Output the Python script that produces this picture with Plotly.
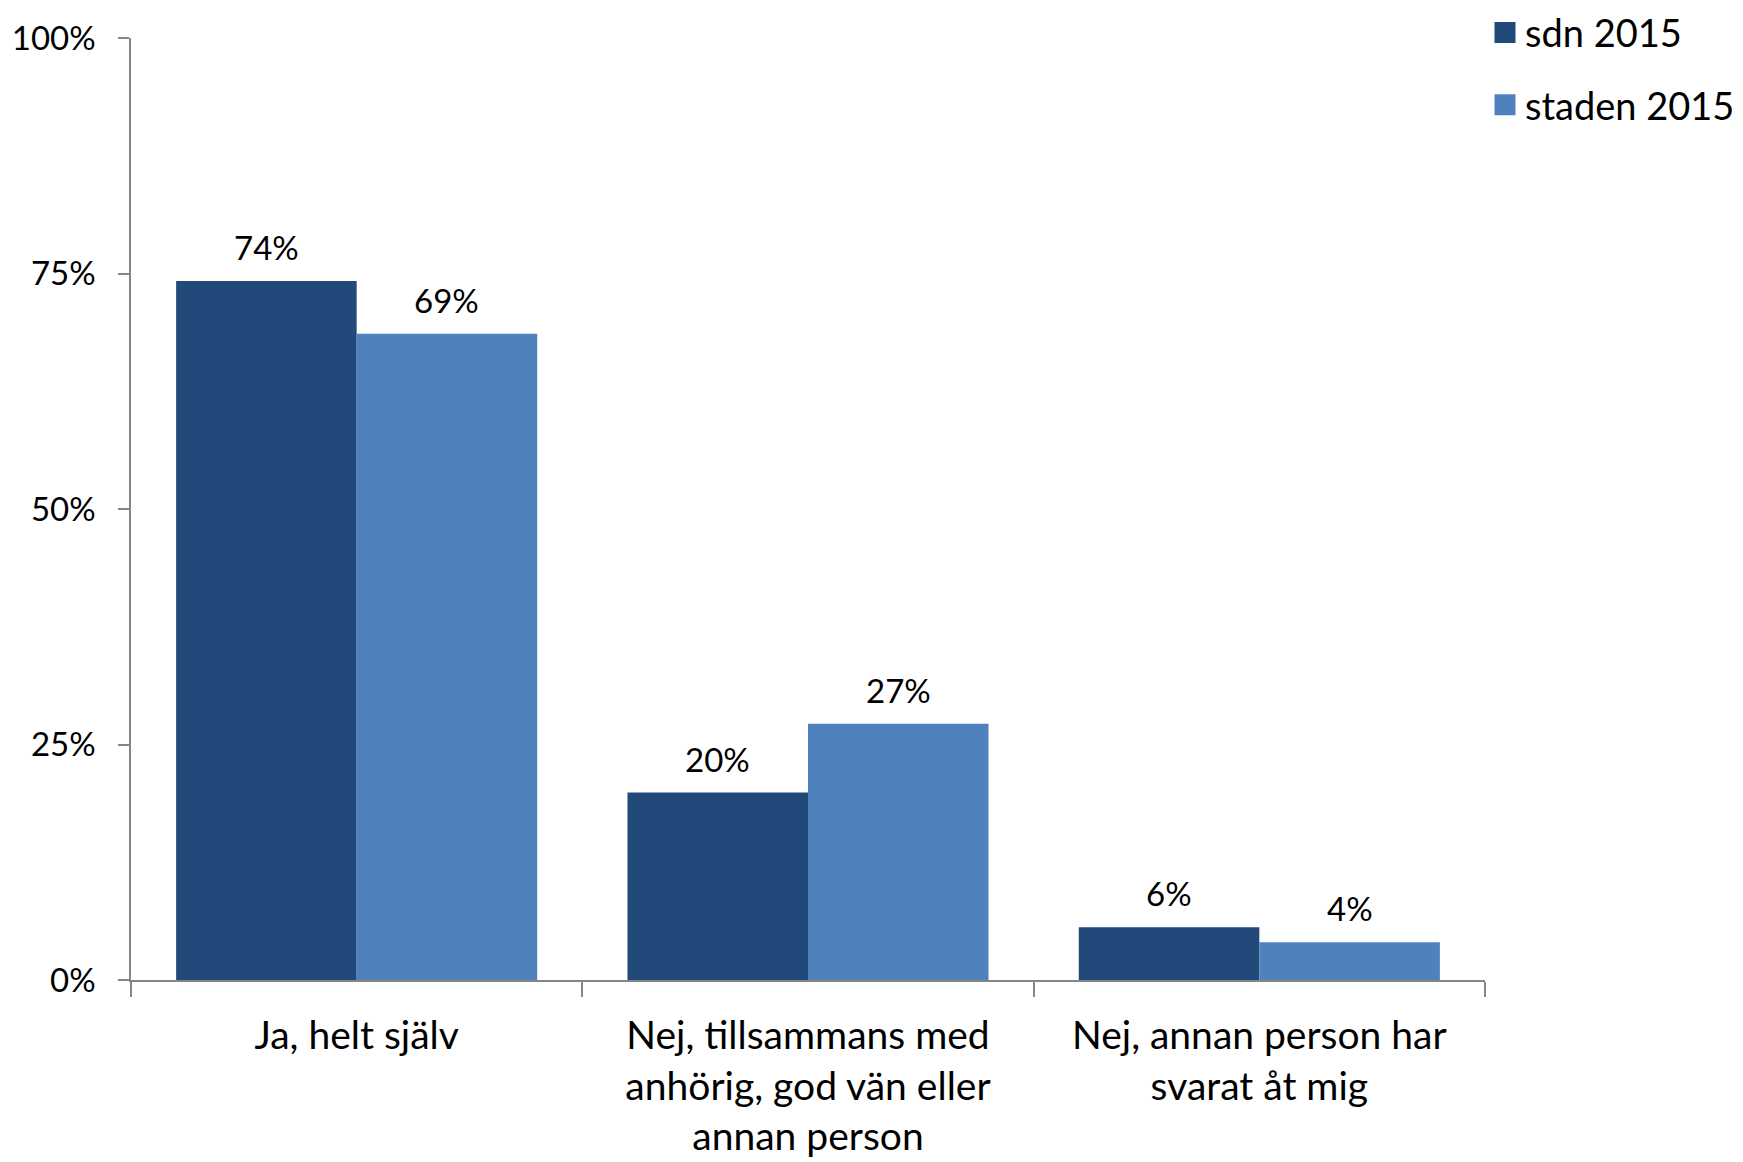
import plotly.graph_objects as go

categories = ["Ja, helt själv",
              "Nej, tillsammans med<br>anhörig, god vän eller<br>annan person",
              "Nej, annan person har<br>svarat åt mig"]
series_names = ["sdn 2015", "staden 2015"]
sdn_values = [0.742, 0.199, 0.056]
staden_values = [0.686, 0.272, 0.040]
colors = ["#214A7B", "#4F81BD"]
y_ticks = [0, 0.25, 0.5, 0.75, 1.0]

FONT = "Lato, 'Open Sans', sans-serif"
AXIS_GREY = "#868686"

fig = go.Figure()
for name, vals, col, grp in zip(series_names, [sdn_values, staden_values], colors, ["a", "b"]):
    fig.add_trace(go.Bar(x=categories, y=vals, name=name, marker_color=col,
                         marker_line_width=0, legendgroup=grp, showlegend=False))
# legend entries (larger square swatches), kept on the hidden overlay axis
for name, col, grp in zip(series_names, colors, ["a", "b"]):
    fig.add_trace(go.Scatter(x=[None], y=[None], name=name, mode="markers",
                             marker=dict(symbol="square", size=16, color=col,
                                         line=dict(width=5, color=col)),
                             legendgroup=grp, showlegend=True, hoverinfo="skip",
                             xaxis="x2"))

# data labels (placed on an overlaying numeric axis so they sit over each bar)
n_series = len(series_names)
group_width = 0.8
bw = group_width / n_series
annotations = []
for s, vals in enumerate([sdn_values, staden_values]):
    for i, v in enumerate(vals):
        xc = i - group_width / 2 + bw * (s + 0.5)
        annotations.append(dict(x=xc, y=v, xref="x2", yref="y", text=f"{round(v*100)}%",
                                showarrow=False, yanchor="bottom", yshift=12,
                                font=dict(family=FONT, size=33, color="#000000")))

fig.update_layout(
    width=1735, height=1154,
    margin=dict(l=123, r=258, t=30, b=182, autoexpand=False),
    paper_bgcolor="white", plot_bgcolor="white",
    barmode="group", bargap=0.2, bargroupgap=0,
    font=dict(family=FONT, color="#000000"),
    showlegend=True,
    legend=dict(x=1.0, xanchor="left", y=1.039, yanchor="top",
                font=dict(family=FONT, size=38, color="#000000"),
                tracegroupgap=20, bgcolor="rgba(0,0,0,0)"),
    xaxis=dict(type="category", range=[-0.5, 2.5], showline=True, linecolor=AXIS_GREY,
               linewidth=2, ticks="outside", tickson="boundaries", ticklen=15,
               tickcolor=AXIS_GREY, tickwidth=1.5, showgrid=False, zeroline=False,
               tickfont=dict(family=FONT, size=39, color="#000000"),
               ticklabelstandoff=20, automargin=False),
    xaxis2=dict(overlaying="x", range=[-0.5, 2.5], visible=False),
    yaxis=dict(range=[0, 1], tickvals=y_ticks, tickformat=".0%", showline=True,
               linecolor=AXIS_GREY, linewidth=1.5, ticks="outside", ticklen=11,
               tickcolor=AXIS_GREY, tickwidth=1.5, showgrid=False, zeroline=False,
               tickfont=dict(family=FONT, size=33, color="#000000"),
               ticklabelstandoff=16, automargin=False),
    annotations=annotations,
)

fig.write_html("out.html")
